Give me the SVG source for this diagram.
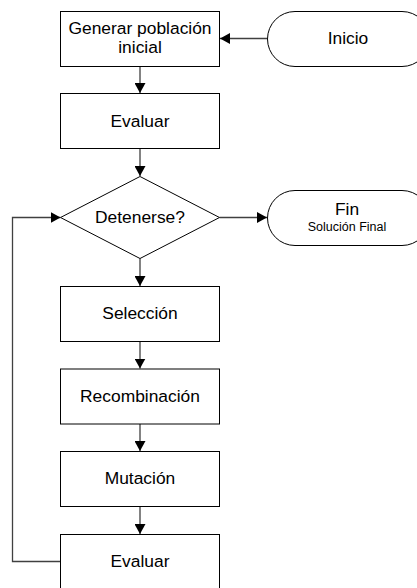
<svg xmlns="http://www.w3.org/2000/svg" width="417" height="588" viewBox="0 0 417 588">
<style>
.box{fill:#fff;stroke:#000;stroke-width:1}
.t{font-family:"Liberation Sans",Arial,sans-serif;font-size:17.4px;fill:#000;text-anchor:middle}
.s{font-size:12.5px}
.c{fill:none;stroke:#404040;stroke-width:1.3}
</style>
<defs>
<marker id="a" markerUnits="userSpaceOnUse" markerWidth="11" markerHeight="11" refX="10" refY="5.5" orient="auto">
<path d="M0,0 L10,5.5 L0,11 Z" fill="#000"/>
</marker>
</defs>
<rect width="417" height="588" fill="#fff"/>
<g id="connectors">
<path class="c" d="M267,38.5 H220" marker-end="url(#a)"/>
<path class="c" d="M140,66 V93" marker-end="url(#a)"/>
<path class="c" d="M140,148.5 V176" marker-end="url(#a)"/>
<path class="c" d="M219.5,217.5 H267" marker-end="url(#a)"/>
<path class="c" d="M140,258.5 V286" marker-end="url(#a)"/>
<path class="c" d="M140,341.5 V368.5" marker-end="url(#a)"/>
<path class="c" d="M140,424 V451" marker-end="url(#a)"/>
<path class="c" d="M140,506.5 V534" marker-end="url(#a)"/>
<path class="c" d="M60.5,561.5 H12.5 V217.5 H60.5" marker-end="url(#a)"/>
</g>
<g id="generar">
<rect class="box" x="60.5" y="11.5" width="159" height="55"/>
<text class="t" x="140" y="34.3">Generar población</text>
<text class="t" x="140" y="52.7">inicial</text>
</g>
<g id="inicio">
<rect class="box" x="267.5" y="11.5" width="162" height="55" rx="27.5" ry="27.5"/>
<text class="t" x="348" y="44">Inicio</text>
</g>
<g id="evaluar1">
<rect class="box" x="60.5" y="93.5" width="159" height="55"/>
<text class="t" x="140" y="126.7">Evaluar</text>
</g>
<g id="detenerse">
<polygon class="box" points="140,176.5 219.5,217.5 140,258.5 60.5,217.5"/>
<text class="t" x="140" y="222.7">Detenerse?</text>
</g>
<g id="fin">
<rect class="box" x="267.5" y="190.5" width="162" height="55" rx="27.5" ry="27.5"/>
<text class="t" x="347" y="215">Fin</text>
<text class="t s" x="347" y="230.7">Solución Final</text>
</g>
<g id="seleccion">
<rect class="box" x="60.5" y="286.5" width="159" height="55"/>
<text class="t" x="140" y="319.3">Selección</text>
</g>
<g id="recombinacion">
<rect class="box" x="60.5" y="369" width="159" height="55"/>
<text class="t" x="140" y="401.7">Recombinación</text>
</g>
<g id="mutacion">
<rect class="box" x="60.5" y="451.5" width="159" height="55"/>
<text class="t" x="140" y="484.3">Mutación</text>
</g>
<g id="evaluar2">
<rect class="box" x="60.5" y="534.5" width="159" height="55"/>
<text class="t" x="140" y="567.3">Evaluar</text>
</g>
</svg>
